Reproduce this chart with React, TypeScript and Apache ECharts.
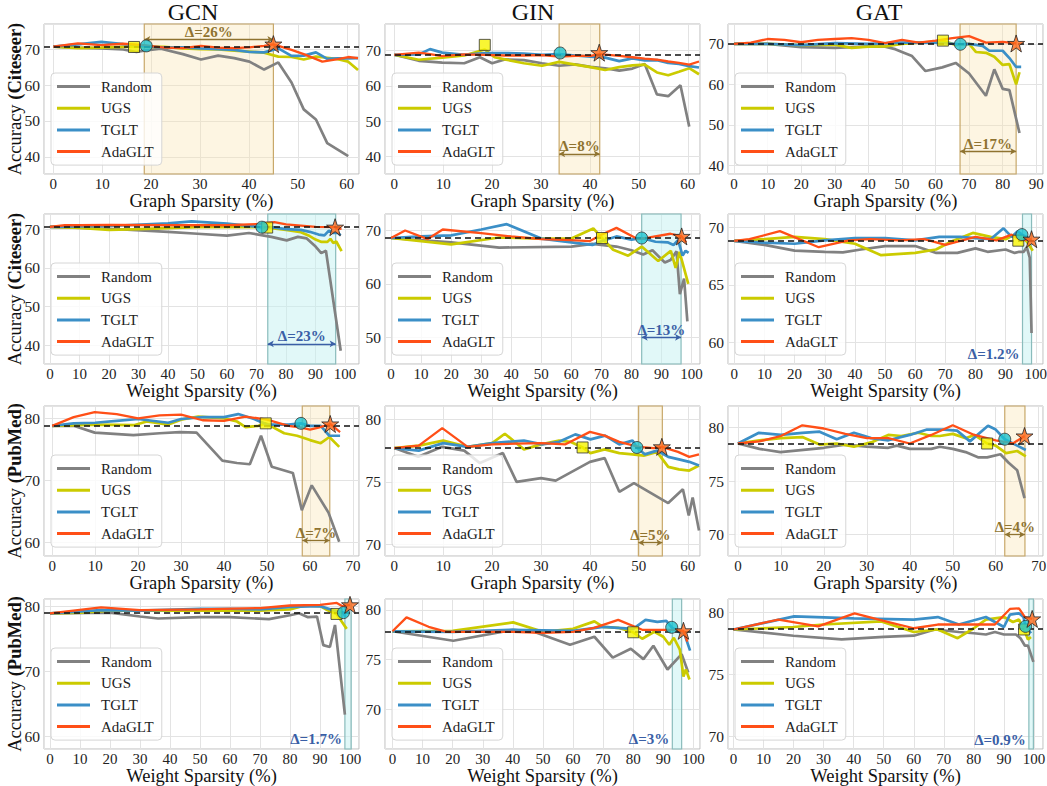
import React, { useEffect, useRef } from "react";
import * as echarts from "echarts";

const FONT = "'Liberation Serif', 'Times New Roman', serif";
const METHODS = ["Random", "UGS", "TGLT", "AdaGLT"];
const MODELS = ["GCN", "GIN", "GAT"];

// ---------- GCN / Citeseer / graph sparsity
const gcnCiteGraphRandom = [[0,70.7],[5,70.4],[9.8,70.2],[14.3,69.9],[17,69.2],[18.5,69.6],[22,70.1],[26.5,68.6],[30.2,67.1],[33.7,68.2],[37,67.5],[40.1,66.5],[43.1,64.3],[46,66.3],[48.7,60.7],[51.2,53.2],[53.7,50.4],[56,43.8],[60.3,40.2]];
const gcnCiteGraphUGS = [[0,70.7],[5,70.3],[9.8,70.4],[14.3,70.6],[16.5,70.6],[18.5,70.7],[22.6,70.6],[26.5,70.2],[30.2,70],[33.7,69.9],[37,69.6],[40.1,69.3],[43.1,69],[46,67.9],[48.7,67.8],[51.2,67.1],[53.7,67.9],[56,67.6],[58.2,67.2],[60.3,66.5],[62.3,64.2]];
const gcnCiteGraphTGLT = [[0,70.7],[5,71.3],[9.8,72],[14.3,71.4],[18.5,70.9],[22.6,70.4],[26.5,70.5],[30.2,70.2],[33.7,70],[37,69.8],[40.1,69.2],[43.1,69.1],[46,70.2],[48.7,68.1],[51.2,68.2],[53.7,69.1],[56,67.3],[58.2,67.4],[60.3,67.4],[62.3,67.5]];
const gcnCiteGraphAda = [[0,70.7],[5,71.6],[9.8,71.1],[14.3,71.5],[18.5,71.1],[22.6,70.4],[26.5,70.3],[30.2,70.9],[33.7,70.4],[37,70.3],[40.1,70.5],[43.1,70.9],[45,71.3],[48.7,69.8],[51.2,68.6],[55,66.5],[58.2,67.2],[60.3,67.8],[62.3,67.5]];
const gcnCiteGraphMarks = [[16.5,70.6],[19,70.9],[45,71.4]];

// ---------- GIN / Citeseer / graph sparsity
const ginCiteGraphRandom = [[0,68.8],[5,67.1],[9.8,66.6],[14.3,66.4],[17.5,68.1],[20,66.4],[22.6,67.5],[26.5,67.3],[30.2,66.4],[33.7,65.7],[37,66.1],[40.1,65.4],[43.1,65],[46,64.3],[48.7,64.9],[51.2,66.2],[53.7,57.6],[56,57.1],[58.5,60.2],[60.3,48.5]];
const ginCiteGraphUGS = [[0,68.8],[5,67.4],[9.8,68],[14.3,68.6],[18.5,70.3],[20.5,68.1],[22.6,67.5],[26.5,66.4],[30.2,65.7],[33.7,66.8],[37,66],[40.1,65.3],[43.1,64.5],[46,65.3],[48.7,65.8],[51.2,66],[53.7,63.8],[56,63],[58.2,64],[60.3,65],[62.3,63.3]];
const ginCiteGraphTGLT = [[0,68.8],[5,68.9],[7.3,70.4],[9.8,69.4],[14.3,68.8],[18.5,69.3],[22.6,69.3],[26.5,69.1],[30.2,68.8],[33.7,69],[37,68.6],[40.1,68.3],[43.1,68],[46,67],[48.7,67.8],[51.2,67.2],[53.7,67.3],[56,66.5],[58.2,66.2],[60.3,65.6],[62.3,65.2]];
const ginCiteGraphAda = [[0,68.8],[5,69.4],[7.3,69],[9.8,68.4],[14.3,68.9],[18.5,68.8],[22.6,68.6],[26.5,68.6],[30.2,68.7],[33.7,68.3],[37,68.5],[40.1,68.5],[42,69],[46,68.5],[48.7,68.1],[51.2,67.7],[53.7,67.4],[56,66.9],[58.2,66.5],[60.3,66],[62.3,66.9]];
const ginCiteGraphMarks = [[18.5,71.6],[33.9,69.3],[41.9,69.4]];

// ---------- GAT / Citeseer / graph sparsity
const gatCiteGraphRandom = [[0,70],[10,70],[20,69.2],[30,69],[40,69.4],[45,69.3],[48,68.7],[50,68],[53,67],[57,63.3],[62,64.2],[66,65.3],[70,62.7],[75,57.2],[77.5,63.7],[80,58.9],[82,58.6],[85,48]];
const gatCiteGraphUGS = [[0,70],[10,70],[20,69.7],[30,69.8],[35,69],[40,69.3],[45,69.4],[50,70],[55,70.3],[60,70.5],[62.2,70.8],[66,69.7],[70,70],[72,68],[75,67.8],[77.5,66.8],[80,64.8],[82,65],[84,60],[85,63]];
const gatCiteGraphTGLT = [[0,70],[10,70],[20,69.7],[30,70.2],[40,70],[50,70.3],[60,70.3],[67.4,69.9],[70,70],[74,69.5],[76,68.3],[80,68.3],[82,66.5],[84,64.3],[85.5,64.3]];
const gatCiteGraphAda = [[0,70],[5,70.3],[10,71.2],[15,71],[20,70.4],[25,71],[30,71.2],[35,71.4],[40,71],[45,70.2],[50,71],[55,70.3],[60,70.8],[65,71.4],[70,71.9],[75,70.3],[80,70.5],[84,70.1]];
const gatCiteGraphMarks = [[62.2,70.8],[67.4,69.9],[84,70.1]];

// ---------- GCN / Citeseer / weight sparsity
const gcnCiteWeightRandom = [[0,70.6],[20,70.1],[40,69.3],[50,68.8],[60,68.3],[67.4,69],[75,68],[80.2,67.1],[84,68],[87,67.6],[90,65.5],[91.9,63.8],[93.5,64.4],[98.5,38.6]];
const gcnCiteWeightUGS = [[0,70.6],[10,70.3],[20,69.8],[30,70],[50,70.5],[70,70.5],[73.6,70.4],[80,69.8],[85,69.2],[88,68.2],[90,67.3],[92,66.7],[94,66.7],[95,67.5],[96,66.4],[97,66.8],[98.8,64.3]];
const gcnCiteWeightTGLT = [[0,70.6],[20,70.8],[40,71.5],[48,72],[60,71.4],[71.8,70.5],[75,70.5],[80,70],[85,69.8],[88,69.3],[91,68.6],[93,68.4],[94.5,69.6],[96,69],[97.5,69],[98.5,68.4]];
const gcnCiteWeightAda = [[0,70.6],[5,71],[10,71],[20,71.1],[40,71],[60,71],[70,71.3],[76,71.8],[80,71.2],[90,70.6],[96.6,70.5],[97.5,70],[98.8,70.1]];
const gcnCiteWeightMarks = [[73.6,70.4],[71.8,70.5],[96.6,70.5]];

// ---------- GIN / Citeseer / weight sparsity
const ginCiteWeightRandom = [[0,68.6],[20,67.8],[36,66.8],[60,67],[67,67.5],[75,67],[80,66.3],[83.9,65.5],[87,66.3],[91.1,64],[93,64.5],[95,66.1],[96.1,58.1],[97.5,61],[98.6,53]];
const ginCiteWeightUGS = [[0,68.6],[20,67.4],[36,68.7],[50,68.5],[60,68.5],[67.3,70.4],[70.2,68.6],[73.9,66.4],[78.9,65.3],[83.4,67],[88.9,64.3],[93.1,66.2],[94.7,63],[96,66],[98.9,60]];
const ginCiteWeightTGLT = [[0,68.6],[10,68.9],[20,69.1],[30,70.2],[38.5,71.2],[50,68.5],[60,67.8],[67,67.3],[70,68],[75,68.9],[80,68.3],[83.4,68.6],[88,67.9],[92,67.8],[94,67.3],[95.5,68.2],[97,65.3],[98,66.2],[99,65.8]];
const ginCiteWeightAda = [[0,68.6],[4.7,70],[12.2,68.4],[17.2,70.2],[30,69.5],[40,68.9],[50,68.4],[60,68.2],[66,68],[70,69.2],[75,70.5],[82,68.4],[86,68.7],[93,69.4],[96.7,68.9],[97.5,68.3],[98.2,67.8]];
const ginCiteWeightMarks = [[70.2,68.6],[83.4,68.6],[96.7,68.9]];

// ---------- GAT / Citeseer / weight sparsity
const gatCiteWeightRandom = [[0,68.85],[10,68.5],[20,68],[30,67.9],[36,67.85],[42,68.1],[50,68.4],[60,68.4],[67,67.8],[74,67.8],[80,68.2],[84,67.9],[90,68.1],[93,67.8],[94.5,67.9],[96,67.9],[97,68.3],[98,67.4],[98.6,60.8]];
const gatCiteWeightUGS = [[0,68.85],[10,69],[20,69.2],[30,69],[40,68.6],[48.7,67.6],[60,67.8],[66.9,68.1],[72,68.8],[79.1,69.55],[85,69.2],[90,69],[93,69.4],[95,69.3],[97,68.8],[99,68]];
const gatCiteWeightTGLT = [[0,68.85],[10,68.7],[20,68.6],[30,68.9],[40,69.1],[50,69.1],[60,68.9],[68,69.2],[75,69.2],[80,69.1],[85,69],[89.3,69.95],[92,69.2],[94,69.7],[95.4,69.4],[97,69.2],[98,69]];
const gatCiteWeightAda = [[0,68.85],[5,69],[15.1,69.7],[28,68.3],[38,68.9],[45,69],[55,68.9],[63,69],[70,68.5],[80,69.2],[87,68.9],[92,69.4],[95,68.9],[98.6,69]];
const gatCiteWeightMarks = [[94.2,68.87],[95.4,69.4],[98.6,69]];

// ---------- GCN / PubMed / graph sparsity
const gcnPubGraphRandom = [[0,78.8],[5,78.8],[9.9,77.7],[18.9,77.3],[25,77.6],[29.7,77.8],[33.6,77.7],[39.6,73.2],[43,72.8],[46,72.6],[48.6,77.2],[51.1,72.2],[56,71.2],[58.1,65.2],[60.4,69.2],[64.3,64.8],[66.8,60.1]];
const gcnPubGraphUGS = [[0,78.8],[10,79],[19,78.9],[22,79.5],[27,79],[30,79.8],[34,80.3],[40,80],[43,79.5],[45,78.6],[48,78.8],[49.7,79.2],[54,77.6],[57,77.2],[60,76.5],[62.5,76],[64.5,77],[66.8,75.4]];
const gcnPubGraphTGLT = [[0,78.8],[5,79.2],[10,79.3],[15,79.6],[20,79.9],[27,79.3],[30,79.9],[35,80.2],[40,80.2],[43.3,80.7],[47,79.9],[50,79],[55,79],[57.9,79.2],[60,78.8],[62.5,78.8],[64.5,77.2],[67,77.2]];
const gcnPubGraphAda = [[0,78.8],[5,80.2],[9.9,81],[15,80.7],[20,80],[25,80.5],[30,80.6],[35,79.7],[40,79.6],[45,80.3],[50,79.8],[55,78.8],[58,78.5],[60,78.2],[62,78.5],[64.7,79.1],[67,77.8]];
const gcnPubGraphMarks = [[49.7,79.2],[57.9,79.2],[64.7,79.1]];

// ---------- GIN / PubMed / graph sparsity
const ginPubGraphRandom = [[0,77.7],[4.9,77],[9.8,77.8],[14.3,77.5],[17.5,76.5],[22.2,77.3],[25,75],[30,75.3],[33,75.1],[40,76.6],[43,76.9],[46,74.2],[49,74.9],[56,73.3],[59,74.4],[60.2,72.3],[61,73.75],[62.3,71.1]];
const ginPubGraphUGS = [[0,77.7],[5,77.9],[10,78.3],[15,77.8],[20,78.1],[22.6,78.85],[26.5,77.6],[30,78],[33.7,78.3],[36,78.2],[38.5,77.75],[40.1,77.3],[43,77.6],[46,77.3],[48.7,77.2],[51,77.1],[53.7,77.4],[56,76.2],[58.2,76],[60.3,75.9],[62.3,76.3]];
const ginPubGraphTGLT = [[0,77.7],[5,77.5],[10,78.1],[15,77.8],[20,78.1],[26.5,78.3],[30.2,78],[33.7,78.2],[37,78.8],[40.1,78.4],[43.1,78.7],[46,78],[48.7,78.3],[49.6,77.75],[51.2,77.2],[53.7,77.5],[56,77],[58.2,76.8],[60.3,76.6],[62.3,76.3]];
const ginPubGraphAda = [[0,77.7],[5,77.9],[9.8,79.3],[15,77.8],[20,78],[25,78.05],[30,78.1],[35,78],[40,79],[43,78.7],[46,78.2],[50,77.8],[53,77.7],[54.7,77.8],[58,77.4],[60.3,77],[62.3,77.2]];
const ginPubGraphMarks = [[38.5,77.75],[49.6,77.75],[54.7,77.8]];

// ---------- GAT / PubMed / graph sparsity
const gatPubGraphRandom = [[0,78.5],[5,78],[9.9,77.7],[20,78.1],[25,78.4],[30,78.2],[35,78.1],[37,78.3],[40,78],[45,78],[47,78.2],[50,78],[53,77.7],[56,77.2],[58,77.2],[61.1,77.5],[63,76.7],[65,76],[66.7,73.4]];
const gatPubGraphUGS = [[0,78.5],[5,78.8],[10,79],[15,79.1],[19,78.4],[23,78.5],[27,78.2],[31,78.6],[35,79.3],[38,79.2],[42,79.5],[45,79.2],[47,79.2],[50,79.4],[53,79],[55,79.3],[58,78.5],[60,78.3],[62.4,77.6],[65,77.8],[67,77.3]];
const gatPubGraphTGLT = [[0,78.5],[4.9,79.5],[10,79.3],[15,79.5],[19,79.6],[23,78.9],[27,79.5],[31,79],[35,78.8],[40,79.3],[44,79.8],[48,79.8],[51,79.7],[54,78.7],[58.2,80.15],[60,79.8],[62.1,78.9],[65,78.3],[67,77.9]];
const gatPubGraphAda = [[0,78.5],[5,78.7],[10,79.2],[15,80.2],[20,79.9],[25,79.4],[30,79],[35,79],[40,78.5],[45,79.3],[50,80.2],[55,79.3],[60,78.8],[64,78.5],[66.7,79.2]];
const gatPubGraphMarks = [[58,78.5],[62.1,78.9],[66.7,79.2]];

// ---------- GCN / PubMed / weight sparsity
const gcnPubWeightRandom = [[0,78.9],[20,79],[30,78.4],[36,78.1],[50,78.3],[60,78.3],[73,78],[80,78.6],[83,78.9],[86,78.3],[89,78.4],[91.1,74],[93.3,73.7],[95,77.1],[98.3,63.3]];
const gcnPubWeightUGS = [[0,78.9],[10,79],[20,79.3],[50,79.3],[70,79.3],[80,79.5],[85,80.1],[90,80],[92,79.5],[95.5,78.8],[97,77.8],[98.9,76.5]];
const gcnPubWeightTGLT = [[0,78.9],[17,79.4],[30,79.3],[50,79.6],[60,79.6],[70,79.5],[80,79.9],[90,80],[95,79.3],[97.8,79],[98.5,78.3]];
const gcnPubWeightAda = [[0,78.9],[17,79.8],[30,79.4],[50,79.5],[70,79.7],[80,80.1],[90,80.2],[95.6,80.5],[97.5,80],[100,80.2]];
const gcnPubWeightMarks = [[95.5,78.8],[97.8,79],[100,80.2]];

// ---------- GIN / PubMed / weight sparsity
const ginPubWeightRandom = [[0,77.85],[20.2,76.9],[40,78],[47,77.8],[59,76.5],[67.1,77.3],[73.2,75.2],[79.2,76.1],[83.4,75.05],[86.7,76.4],[91.4,74],[96.1,75.55],[98.3,73.7]];
const ginPubWeightUGS = [[0,77.85],[20,77.9],[40.1,78.75],[50,77.8],[60,78.1],[67.1,78.85],[70,78.3],[75,78.2],[80,77.75],[83,77.1],[87,77.8],[90,77.3],[92,76.5],[93.5,77.2],[95.5,76],[96.7,73.3],[97.5,74],[98.7,73]];
const ginPubWeightTGLT = [[0,77.85],[20,77.8],[40,78],[60,77.9],[70,78.3],[80,78.1],[84.1,79],[88,78.8],[91,78.9],[92.8,78.25],[95,77.8],[97,77.6],[98.9,75.9]];
const ginPubWeightAda = [[0,77.85],[4.65,79.25],[12,78.3],[18,77.8],[40,77.8],[50,77.7],[60,77.8],[67,78.2],[75,79],[83,78],[90,78],[93,78],[96.7,77.9],[98,76.8]];
const ginPubWeightMarks = [[80,77.75],[92.8,78.25],[96.7,77.9]];

// ---------- GAT / PubMed / weight sparsity
const gatPubWeightRandom = [[0,78.6],[20,78.1],[36,77.8],[50,78],[60,78.1],[67,78.6],[75,78.4],[80,78.3],[84,78.2],[87,78.4],[90,78.2],[94,78.2],[95.5,77.9],[97,77.3],[98,77.3],[99.8,76]];
const gatPubWeightUGS = [[0,78.6],[20,78.8],[30,79],[49.2,79.25],[60,78.4],[68,78.6],[74.6,77.9],[80,78.7],[84,79.4],[90,79.6],[93,79.2],[95,79.4],[96.7,78.6],[98,77.8],[99,78]];
const gatPubWeightTGLT = [[0,78.6],[20.2,79.65],[40,79.5],[60,79.4],[68,79.6],[75,79],[84,79.6],[90,78.8],[92,79.8],[95,79.9],[96.5,79.6],[97.2,78.85],[99,78.3]];
const gatPubWeightAda = [[0,78.6],[15,79.4],[28.2,78.85],[40.3,79.9],[50,79.3],[60,78.7],[68,79],[75,79],[80,79],[87,79],[92,80.25],[95,80.3],[97,79.6],[99.4,79.45]];
const gatPubWeightMarks = [[96.7,78.6],[97.2,78.85],[99.4,79.45]];

// baselines (dense accuracy), bands and delta labels per panel (row-major)
const baselines = [70.75, 68.8, 70.0, 70.6, 68.6, 68.87, 78.8, 77.75, 78.5, 78.95, 77.85, 78.63];
const bands = [[18.6,45],[33.7,42],[67.3,84],[73.8,96.8],[83.4,96.5],[95.6,98.6],[58.2,64.6],[49.9,54.8],[62.1,66.8],[98.3,100.4],[93,96.1],[98.3,99.8]];
const deltas = ["Δ=26%","Δ=8%","Δ=17%","Δ=23%","Δ=13%","Δ=1.2%","Δ=7%","Δ=5%","Δ=4%","Δ=1.7%","Δ=3%","Δ=0.9%"];
const deltaY = [72.7, 40.8, 43.5, 40.4, 50.0, 58.93, 60.3, 70.13, 70.0, 59.5, 66.97, 69.73];
const hasArrow = [true,true,true,true,true,false,true,true,true,false,false,false];
const xRanges = [[-1.9,62.5],[-1.9,62.5],[-1.8,92.0],[-2,104.7],[-2,102.8],[-2.1,102.4],[-1.9,71.4],[-1.9,62.5],[-2.3,71],[-2,103],[-2.5,102.2],[-1.8,103]];
const yRanges = [[35.2,77],[35.1,77.5],[37.9,74.9],[35.2,73.9],[45,73.1],[58.1,71.2],[57.8,82],[69.06,81.07],[68,82],[58,81.1],[66,81.1],[69,81.05]];
const ySteps = [10,10,10,10,10,5,10,5,5,10,5,5];
const xNames = ["Graph Sparsity (%)", "Weight Sparsity (%)", "Graph Sparsity (%)", "Weight Sparsity (%)"];
const yNames = ["Citeseer", "Citeseer", "PubMed", "PubMed"];

const panelSeries = [
  [gcnCiteGraphRandom, gcnCiteGraphUGS, gcnCiteGraphTGLT, gcnCiteGraphAda, gcnCiteGraphMarks],
  [ginCiteGraphRandom, ginCiteGraphUGS, ginCiteGraphTGLT, ginCiteGraphAda, ginCiteGraphMarks],
  [gatCiteGraphRandom, gatCiteGraphUGS, gatCiteGraphTGLT, gatCiteGraphAda, gatCiteGraphMarks],
  [gcnCiteWeightRandom, gcnCiteWeightUGS, gcnCiteWeightTGLT, gcnCiteWeightAda, gcnCiteWeightMarks],
  [ginCiteWeightRandom, ginCiteWeightUGS, ginCiteWeightTGLT, ginCiteWeightAda, ginCiteWeightMarks],
  [gatCiteWeightRandom, gatCiteWeightUGS, gatCiteWeightTGLT, gatCiteWeightAda, gatCiteWeightMarks],
  [gcnPubGraphRandom, gcnPubGraphUGS, gcnPubGraphTGLT, gcnPubGraphAda, gcnPubGraphMarks],
  [ginPubGraphRandom, ginPubGraphUGS, ginPubGraphTGLT, ginPubGraphAda, ginPubGraphMarks],
  [gatPubGraphRandom, gatPubGraphUGS, gatPubGraphTGLT, gatPubGraphAda, gatPubGraphMarks],
  [gcnPubWeightRandom, gcnPubWeightUGS, gcnPubWeightTGLT, gcnPubWeightAda, gcnPubWeightMarks],
  [ginPubWeightRandom, ginPubWeightUGS, ginPubWeightTGLT, ginPubWeightAda, ginPubWeightMarks],
  [gatPubWeightRandom, gatPubWeightUGS, gatPubWeightTGLT, gatPubWeightAda, gatPubWeightMarks],
];

// ---------- layout & style
const COL_LEFT = [44, 385, 728];
const ROW_TOP = [24, 214, 406, 599];
const GW = 315;
const GH = 150;
const TITLE_X = [193, 533, 879];
const LINE_COLORS = ["#818181", "#cbcb00", "#3b8fc7", "#ff4f17"];
const LINE_WIDTHS = [2.7, 2.7, 2.7, 2.3];
const STAR = "path://M50 2 L61.8 36.3 L97.6 36.3 L68.6 57.5 L79.5 92 L50 70.8 L20.5 92 L31.4 57.5 L2.4 36.3 L38.2 36.3 Z";
const GRAPH_STYLE = { fill: "rgba(250,228,180,0.38)", edge: "#c8a86a", text: "#8f7330" };
const WEIGHT_STYLE = { fill: "rgba(196,242,242,0.5)", edge: "#8abcbc", text: "#3a5fa6" };

function tickFormatter(step: number) {
  return (v: number) => {
    const r = v / step;
    return Math.abs(r - Math.round(r)) < 1e-6 ? String(Math.round(v)) : "";
  };
}

function buildOption() {
  const grid: any[] = [];
  const xAxis: any[] = [];
  const yAxis: any[] = [];
  const series: any[] = [];
  const legend: any[] = [];

  for (let i = 0; i < 12; i++) {
    const row = Math.floor(i / 3);
    const col = i % 3;
    const left = COL_LEFT[col];
    const top = ROW_TOP[row];
    const st = row % 2 === 0 ? GRAPH_STYLE : WEIGHT_STYLE;
    const [rnd, ugs, tglt, ada, marks] = panelSeries[i];

    grid.push({
      left, top, width: GW, height: GH,
      show: true, borderColor: "#bdbdbd", borderWidth: 1,
      backgroundColor: "transparent",
      outerBoundsMode: "none",
    });

    xAxis.push({
      type: "value", gridIndex: i,
      min: xRanges[i][0], max: xRanges[i][1],
      minInterval: 10, maxInterval: 10,
      axisLine: { show: false }, axisTick: { show: false },
      splitLine: { show: true, lineStyle: { color: "#e3e3e3", width: 1 } },
      axisLabel: { formatter: tickFormatter(10), fontFamily: FONT, fontSize: 15, color: "#222", margin: 2 },
      name: xNames[row], nameLocation: "middle", nameGap: 17, nameMoveOverlap: false,
      nameTextStyle: { fontFamily: FONT, fontSize: 18.5, color: "#111" },
    });

    const ya: any = {
      type: "value", gridIndex: i,
      min: yRanges[i][0], max: yRanges[i][1],
      minInterval: ySteps[i], maxInterval: ySteps[i],
      axisLine: { show: false }, axisTick: { show: false },
      splitLine: { show: true, lineStyle: { color: "#e3e3e3", width: 1 } },
      axisLabel: { formatter: tickFormatter(ySteps[i]), fontFamily: FONT, fontSize: 15.5, color: "#222", margin: 4 },
    };
    if (col === 0) {
      ya.name = "{n|Accuracy }{b|(" + yNames[row] + ")}";
      ya.nameLocation = "middle";
      ya.nameGap = 20;
      ya.nameRotate = 90;
      ya.nameMoveOverlap = false;
      ya.nameTextStyle = {
        fontFamily: FONT, fontSize: 18.5, color: "#111",
        rich: {
          n: { fontFamily: FONT, fontSize: 18.5, color: "#111" },
          b: { fontFamily: FONT, fontSize: 18.5, color: "#111", fontWeight: "bold" },
        },
      };
    }
    yAxis.push(ya);

    const lines = [rnd, ugs, tglt, ada];
    lines.forEach((d, k) => {
      const s: any = {
        type: "line", name: METHODS[k], xAxisIndex: i, yAxisIndex: i,
        data: d, showSymbol: false, symbol: "none",
        lineStyle: { color: LINE_COLORS[k], width: LINE_WIDTHS[k] },
        itemStyle: { color: LINE_COLORS[k] },
        z: 2 + k * 0.1,
        animation: false,
      };
      if (k === 0) {
        s.markArea = {
          silent: true,
          itemStyle: { color: st.fill, borderColor: st.edge, borderWidth: 1.2 },
          data: [[{ xAxis: bands[i][0] }, { xAxis: bands[i][1] }]],
        };
      }
      if (k === 2) {
        if (hasArrow[i]) {
          s.markLine = {
            silent: true, symbol: ["arrow", "arrow"], symbolSize: [5, 6],
            lineStyle: { color: st.text, width: 1.3, type: "solid" },
            label: {
              show: true, position: "insideMiddleTop", distance: 2, lineHeight: 11,
              formatter: deltas[i], color: st.text, fontWeight: "bold", fontSize: 15, fontFamily: FONT,
            },
            data: [[{ coord: [bands[i][0], deltaY[i]] }, { coord: [bands[i][1], deltaY[i]] }]],
          };
        } else {
          s.markPoint = {
            silent: true, symbol: "circle", symbolSize: 0,
            label: {
              show: true, position: "left", distance: 3,
              formatter: deltas[i], color: st.text, fontWeight: "bold", fontSize: 15, fontFamily: FONT,
            },
            data: [{ coord: [bands[i][0], deltaY[i]] }],
          };
        }
      }
      if (k === 3) {
        s.markLine = {
          silent: true, symbol: ["none", "none"],
          label: { show: false },
          lineStyle: { color: "#111", width: 1.7, type: [6, 4] },
          data: [{ yAxis: baselines[i] }],
        };
      }
      series.push(s);
    });

    // best-sparsity markers: UGS square, TGLT circle, AdaGLT star
    series.push({
      type: "scatter", name: "UGS best", xAxisIndex: i, yAxisIndex: i,
      data: [marks[0]], symbol: "rect", symbolSize: 11, z: 7,
      itemStyle: { color: "#f6f400", borderColor: "#333", borderWidth: 1 },
    });
    series.push({
      type: "scatter", name: "TGLT best", xAxisIndex: i, yAxisIndex: i,
      data: [marks[1]], symbol: "circle", symbolSize: 12, z: 7,
      itemStyle: { color: "#1dc3cf", borderColor: "#333", borderWidth: 1 },
    });
    series.push({
      type: "scatter", name: "AdaGLT best", xAxisIndex: i, yAxisIndex: i,
      data: [marks[2]], symbol: STAR, symbolSize: 17, z: 8,
      itemStyle: { color: "#ff6a1c", borderColor: "#222", borderWidth: 1 },
    });

    legend.push({
      data: METHODS, orient: "vertical", left: left + 7, top: top + 49,
      icon: "rect", itemWidth: 33, itemHeight: 3, itemGap: 6.7,
      padding: [6, 8, 6, 6],
      backgroundColor: "rgba(255,255,255,0.8)",
      borderColor: "#d6d6d6", borderWidth: 1, borderRadius: 4,
      selectedMode: false, z: 9,
      textStyle: { fontFamily: FONT, fontSize: 15, color: "#222", padding: [0, 0, 0, 6], lineHeight: 15 },
    });
  }

  const graphic = MODELS.map((m, c) => ({
    type: "text", x: TITLE_X[c], y: 12, z: 10,
    style: { text: m, fontFamily: FONT, fontSize: 24, lineHeight: 20, fill: "#111", align: "center", verticalAlign: "middle" },
  }));

  return { animation: false, backgroundColor: "#fff", grid, xAxis, yAxis, series, legend, graphic };
}

export default function App() {
  const ref = useRef<HTMLDivElement>(null);
  useEffect(() => {
    if (!ref.current) return;
    const chart = echarts.init(ref.current, undefined, { renderer: "svg" });
    chart.setOption(buildOption() as any);
    return () => chart.dispose();
  }, []);
  return <div ref={ref} style={{ position: "absolute", left: 0, top: 0, width: 1047, height: 786 }} />;
}
